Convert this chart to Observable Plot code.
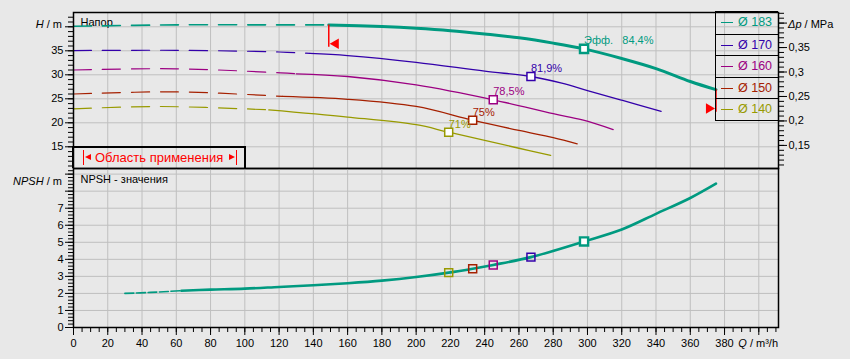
<!DOCTYPE html>
<html><head><meta charset="utf-8">
<script src="https://cdn.jsdelivr.net/npm/d3@7"></script>
<script src="https://cdn.jsdelivr.net/npm/@observablehq/plot@0.6"></script>
<style>
html,body{margin:0;padding:0;background:#e8e8e8;}
#chart{position:relative;width:850px;height:359px;background:#e8e8e8;font-family:"Liberation Sans",Arial,Helvetica,sans-serif;overflow:hidden;}
#chart svg{position:absolute;left:0;}
.ttl{position:absolute;font-size:11px;line-height:11px;color:#000;white-space:nowrap;}
#legend{position:absolute;left:715px;top:11px;width:63px;box-sizing:border-box;border:1.5px solid #000;border-right:none;}
#legend .row{height:21.6px;box-sizing:border-box;border-top:1.5px solid #000;position:relative;font-size:12.5px;}
#legend .row:first-child{border-top:none;}
#legend .sw{position:absolute;left:5px;top:10px;width:12px;height:0;border-top:1px solid;}
#legend .tx{position:absolute;left:22px;top:4px;line-height:13px;}
#range{position:absolute;left:72px;top:146px;width:174px;height:22px;box-sizing:border-box;border:2px solid #000;border-bottom:none;color:#ff0000;font-size:13px;}
#range .bar{position:absolute;top:1.5px;height:15px;width:0;border-left:1px solid #ff0000;}
#range .tl{position:absolute;top:6px;width:0;height:0;border-top:3.5px solid transparent;border-bottom:3.5px solid transparent;}
#range .txt{position:absolute;left:21px;top:3px;line-height:14px;}
</style></head><body><div id="chart"></div>
<script>
// ---------- data ----------
const series = ["Ø 183", "Ø 170", "Ø 160", "Ø 150", "Ø 140"];
const colors = ["#009a80", "#3300aa", "#9c0082", "#a52000", "#989a00"];

const q183 = [0, 60, 120, 149, 180, 200, 220, 240, 260, 280, 298, 320, 340, 360, 375];
const h183 = [40.1, 40.4, 40.4, 40.4, 40.05, 39.7, 39.2, 38.5, 37.7, 36.6, 35.4, 33.4, 31.3, 28.6, 26.9];
const q170 = [0, 60, 120, 138, 160, 200, 240, 267, 285, 300, 320, 343];
const h170 = [35.05, 35.1, 34.75, 34.45, 34.0, 32.6, 30.75, 29.65, 28.25, 26.7, 24.7, 22.4];
const q160 = [0, 60, 121, 130, 160, 200, 245, 280, 297, 315];
const h160 = [31.0, 31.25, 30.4, 30.2, 29.65, 27.9, 24.8, 21.9, 20.6, 18.6];
const q150 = [0, 60, 122, 160, 200, 233, 260, 280, 294];
const h150 = [26.0, 26.45, 25.5, 24.9, 23.4, 20.55, 18.4, 16.9, 15.6];
const q140 = [0, 50, 114, 160, 200, 219, 260, 278.5];
const h140 = [22.9, 23.4, 22.7, 21.2, 19.6, 18.05, 14.7, 13.2];
const solidFrom = [149, 138, 130, 122, 114];   // start of "Область применения" per impeller

const bepQ = [298, 267, 245, 233, 219];
const bepH = [35.4, 29.65, 24.8, 20.55, 18.05];
const bepNPSH = [5.05, 4.13, 3.67, 3.45, 3.22];
const bepLabels = ["Эфф.\u00a0\u00a0\u00a084,4%", "81,9%", "78,5%", "75%", "71%"];

const npshQ = [30, 45, 63, 80, 100, 120, 140, 160, 180, 200, 219, 233, 245, 267, 298, 320, 340, 360, 375];
const npshV = [2.0, 2.06, 2.16, 2.22, 2.28, 2.38, 2.48, 2.6, 2.75, 2.96, 3.22, 3.45, 3.67, 4.13, 5.05, 5.75, 6.67, 7.6, 8.44];
const npshSolidFrom = 63;

const rangeQ = [149, 375];
const rangeTop = [40.4, 26.9];
const rangeBottom = [35.75, 22.2];
const rangeArrow = [36.45, 23.0];

const qMajor = [0, 20, 40, 60, 80, 100, 120, 140, 160, 180, 200, 220, 240, 260, 280, 300, 320, 340, 360, 380, 400];
const qLabels = ["0","20","40","60","80","100","120","140","160","180","200","220","240","260","280","300","320","340","360","380",""];
const qMinor = d3.range(0, 411, 5);
const hMajor = [15, 20, 25, 30, 35, 40];
const hLabels = ["15", "20", "25", "30", "35", ""];
const hMinor = d3.range(11, 43, 1);
const dpMajor = [0.15, 0.2, 0.25, 0.3, 0.35, 0.4];
const dpLabels = ["0,15", "0,2", "0,25", "0,3", "0,35", ""];
const dpMinor = d3.range(11, 43, 1).map(v => v / 100);
const npshMajor = [0, 1, 2, 3, 4, 5, 6, 7, 8, 9];
const npshLabels = ["0", "1", "2", "3", "4", "5", "6", "7", "", ""];
const npshMinor = d3.range(0, 47, 1).map(v => v / 5);

// ---------- helpers ----------
const font = '"Liberation Sans", Arial, Helvetica, sans-serif';
const gridStroke = "#bfbfbf";
const toH = p => p / 0.00981;           // MPa -> m of water
const dpH = dpMajor.map(toH);
const curveQ = [q183, q170, q160, q150, q140];
const curveH = [h183, h170, h160, h150, h140];
const style = {background: "transparent", fontFamily: font, fontSize: "11px", color: "#000", overflow: "visible"};
const xDomain = [0, 411.5];
const smooth = "catmull-rom";

const bep = bepQ.map((Q, i) => ({name: series[i], Q, H: bepH[i], N: bepNPSH[i], label: bepLabels[i]}));
const range = rangeQ.map((Q, i) => ({Q, y1: rangeTop[i], y2: rangeBottom[i], ya: rangeArrow[i]}));

// ---------- top panel ----------
const topMarks = [
  Plot.gridX(qMajor.slice(1), {stroke: gridStroke, strokeOpacity: 1}),
  Plot.gridY(hMajor, {stroke: gridStroke, strokeOpacity: 1}),
  Plot.axisY(hMinor, {anchor: "left", tickSize: 5, tickFormat: () => "", label: null}),
  Plot.axisY(hMajor, {anchor: "left", tickSize: 8, tickPadding: 2, tickFormat: d => hLabels[hMajor.indexOf(d)], label: null}),
  Plot.axisY(dpMinor.map(toH), {anchor: "right", tickSize: 5, tickFormat: () => "", label: null}),
  Plot.axisY(dpH, {anchor: "right", tickSize: 8, tickPadding: 2, tickFormat: d => dpLabels[dpH.indexOf(d)], label: null}),
  Plot.text(["Напор"], {frameAnchor: "top-left", dx: 7, dy: 6, fill: "#000", fontSize: 11})
];
for (let i = series.length - 1; i >= 0; i--) {
  const rows = curveQ[i].map((Q, j) => ({Q, H: curveH[i][j]}));
  const dashed = rows.filter(r => r.Q <= solidFrom[i]);
  const solid = rows.filter(r => r.Q >= solidFrom[i]);
  topMarks.push(Plot.line(dashed, {x: "Q", y: "H", stroke: colors[i], strokeWidth: i === 0 ? 1.6 : 1.2, strokeDasharray: "18,11", curve: smooth}));
  topMarks.push(Plot.line(solid, {x: "Q", y: "H", stroke: colors[i], strokeWidth: i === 0 ? 3 : 1.3, curve: smooth}));
}
topMarks.push(
  Plot.ruleX(range, {x: "Q", y1: "y1", y2: "y2", stroke: "#ff0000", strokeWidth: 1.5}),
  Plot.dot(range.slice(0, 1), {x: "Q", y: "ya", symbol: "triangle", r: 3.9, rotate: -90, fill: "#ff0000", stroke: "none", dx: 7}),
  Plot.dot(range.slice(1), {x: "Q", y: "ya", symbol: "triangle", r: 3.9, rotate: 90, fill: "#ff0000", stroke: "none", dx: -7}),
  Plot.dot(bep.slice(1), {x: "Q", y: "H", symbol: "square", r: 4.5, fill: "#fff", stroke: "name", strokeWidth: 1.5}),
  Plot.dot(bep.slice(0, 1), {x: "Q", y: "H", symbol: "square", r: 4.6, fill: "#fff", stroke: "name", strokeWidth: 2.4}),
  Plot.text(bep, {x: "Q", y: "H", text: "label", fill: "name", textAnchor: "start", dx: 0, dy: -8, fontSize: 11}),
  Plot.frame({stroke: "#000", strokeWidth: 1.5})
);

const topPlot = Plot.plot({
  width: 850, height: 169, marginTop: 12, marginBottom: 1, marginLeft: 73, marginRight: 72,
  style,
  x: {domain: xDomain, axis: null},
  y: {domain: [10.48, 42.98], axis: null},
  color: {domain: series, range: colors},
  marks: topMarks
});

// ---------- bottom panel ----------
const npshRows = npshQ.map((Q, j) => ({Q, N: npshV[j]}));
const bottomPlot = Plot.plot({
  width: 850, height: 191, marginTop: 0, marginBottom: 32, marginLeft: 73, marginRight: 72,
  style,
  x: {domain: xDomain, axis: null},
  y: {domain: [0, 9.33], axis: null},
  color: {domain: series, range: colors},
  marks: [
    Plot.gridX(qMajor.slice(1), {stroke: gridStroke, strokeOpacity: 1}),
    Plot.gridY(npshMajor.slice(1), {stroke: gridStroke, strokeOpacity: 1}),
    Plot.axisY(npshMinor, {anchor: "left", tickSize: 5, tickFormat: () => "", label: null}),
    Plot.axisY(npshMajor, {anchor: "left", tickSize: 8, tickPadding: 2, tickFormat: d => npshLabels[npshMajor.indexOf(d)], label: null}),
    Plot.axisX(qMinor, {anchor: "bottom", tickSize: 5, tickFormat: () => "", label: null}),
    Plot.axisX(qMajor, {anchor: "bottom", tickSize: 8, tickPadding: 4, tickFormat: d => qLabels[qMajor.indexOf(d)], label: null}),
    Plot.text(["NPSH - значения"], {frameAnchor: "top-left", dx: 7, dy: 7, fill: "#000", fontSize: 11}),
    Plot.line(npshRows.filter(r => r.Q <= npshSolidFrom), {x: "Q", y: "N", stroke: colors[0], strokeWidth: 1.6, strokeDasharray: "9,2.5", curve: smooth}),
    Plot.line(npshRows.filter(r => r.Q >= npshSolidFrom), {x: "Q", y: "N", stroke: colors[0], strokeWidth: 2.6, curve: smooth}),
    Plot.dot(bep.slice(1), {x: "Q", y: "N", symbol: "square", r: 4.5, fill: "none", stroke: "name", strokeWidth: 1.5}),
    Plot.dot(bep.slice(0, 1), {x: "Q", y: "N", symbol: "square", r: 4.6, fill: "#fff", stroke: "name", strokeWidth: 2.4}),
    Plot.frame({stroke: "#000", strokeWidth: 1.5})
  ]
});

// ---------- assemble ----------
const chart = document.getElementById("chart");
topPlot.style.top = "0px";
bottomPlot.style.top = "168px";
chart.appendChild(topPlot);
chart.appendChild(bottomPlot);

function addTitle(html, css) {
  const d = document.createElement("div");
  d.className = "ttl";
  d.innerHTML = html;
  Object.assign(d.style, css);
  chart.appendChild(d);
}
addTitle("<i>H</i> / m", {right: "788px", top: "19px"});
addTitle("<i>NPSH</i> / m", {right: "788px", top: "176px"});
addTitle("<i>Δp</i> / MPa", {left: "788px", top: "19px"});
addTitle("<i>Q</i> / m³/h", {right: "72px", top: "338px"});

// range-of-application box
const rb = document.createElement("div");
rb.id = "range";
rb.innerHTML =
  '<div class="bar" style="left:9px"></div>' +
  '<div class="tl" style="left:11px;border-right:6px solid #ff0000"></div>' +
  '<div class="txt">Область применения</div>' +
  '<div class="tl" style="left:155px;border-left:6px solid #ff0000"></div>' +
  '<div class="bar" style="left:162px"></div>';
chart.appendChild(rb);

// legend
const lg = document.createElement("div");
lg.id = "legend";
series.forEach((s, i) => {
  const r = document.createElement("div");
  r.className = "row";
  r.style.color = colors[i];
  r.innerHTML = `<div class="sw" style="border-color:${colors[i]}"></div><div class="tx" style="color:${colors[i]}">${s}</div>`;
  lg.appendChild(r);
});
chart.appendChild(lg);
</script>
</body></html>
